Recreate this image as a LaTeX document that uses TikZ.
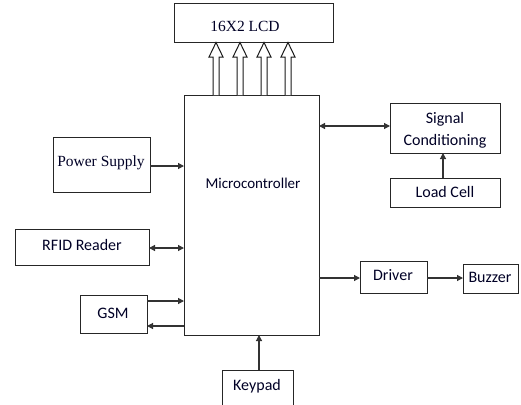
\documentclass[tikz,border=0pt]{standalone}
\usepackage{fontspec}
\setmainfont{Carlito}
\newfontfamily\serifont{Liberation Serif}
\usetikzlibrary{arrows.meta}
\begin{document}
\begin{tikzpicture}[x=1pt,y=-1pt,
  blk/.style={draw=black!85,line width=0.9pt,fill=white},
  lbl/.style={font=\fontsize{16}{18}\selectfont,text=black!85!blue,align=center},
  slbl/.style={font=\serifont\fontsize{15.5}{17}\selectfont,text=black!85!blue},
  con/.style={draw=black!80,line width=1.2pt,-{Triangle[length=6pt,width=6pt]}},
  bicon/.style={draw=black!80,line width=1.2pt,{Triangle[length=6pt,width=6pt]}-{Triangle[length=6pt,width=6pt]}},
  hollow/.style={draw=black!90,line width=1pt,fill=white}]
\useasboundingbox (0,0) rectangle (521,404);
% blocks
\draw[blk] (174,3) rectangle (333,42);
\node[slbl] (lcd) at (245,26) {16X2 LCD};
\draw[blk] (184,95) rectangle (319,335);
\node[lbl,font=\fontsize{15}{17}\selectfont] (mc) at (253,183) {Microcontroller};
\draw[blk] (53,137) rectangle (150,192);
\node[slbl] (ps) at (101,163) {Power Supply};
\draw[blk] (15,229) rectangle (149,265);
\node[lbl] (rfid) at (82,245) {RFID Reader};
\draw[blk] (80,295) rectangle (147,333);
\node[lbl] (gsm) at (113,313) {GSM};
\draw[blk] (390,103) rectangle (500,153);
\node[lbl] (sc) at (445,130) {Signal\\[4pt]Conditioning};
\draw[blk] (390,178) rectangle (500,207);
\node[lbl] (lc) at (445,192) {Load Cell};
\draw[blk] (360,261) rectangle (427,293);
\node[lbl] (drv) at (393,275) {Driver};
\draw[blk] (463,264) rectangle (518,293);
\node[lbl] (buz) at (490,277) {Buzzer};
\draw[blk] (222,370) rectangle (293,406);
\node[lbl] (kp) at (257,386) {Keypad};
% coordinates on box edges
\coordinate (mcL1) at (184,166);
\coordinate (psR) at (150,166);
\coordinate (rfR) at (149,248);
\coordinate (mcL2) at (184,248);
\coordinate (gsR1) at (147,301);
\coordinate (mcL3) at (184,301);
\coordinate (gsR2) at (147,326);
\coordinate (mcL4) at (184,326);
\coordinate (mcR1) at (319,126);
\coordinate (scL) at (390,126);
\coordinate (lcT) at (443,178);
\coordinate (scB) at (443,153);
\coordinate (mcR2) at (319,278);
\coordinate (drL) at (360,278);
\coordinate (drR) at (427,278);
\coordinate (bzL) at (463,278);
\coordinate (kpT) at (259,370);
\coordinate (mcB) at (259,335);
% connectors
\draw[con] (psR) -- (mcL1);
\draw[bicon] (rfR) -- (mcL2);
\draw[con] (gsR1) -- (mcL3);
\draw[con] (mcL4) -- (gsR2);
\draw[bicon] (mcR1) -- (scL);
\draw[con] (lcT) -- (scB);
\draw[con] (mcR2) -- (drL);
\draw[con] (drR) -- (bzL);
\draw[con] (kpT) -- (mcB);
% hollow bus arrows
\foreach \xx in {216,240,264,288}{
  \draw[hollow] (\xx-3,95) -- (\xx-3,57) -- (\xx-7,57) -- (\xx,42.5) -- (\xx+7,57) -- (\xx+3,57) -- (\xx+3,95);
}
\end{tikzpicture}
\end{document}
